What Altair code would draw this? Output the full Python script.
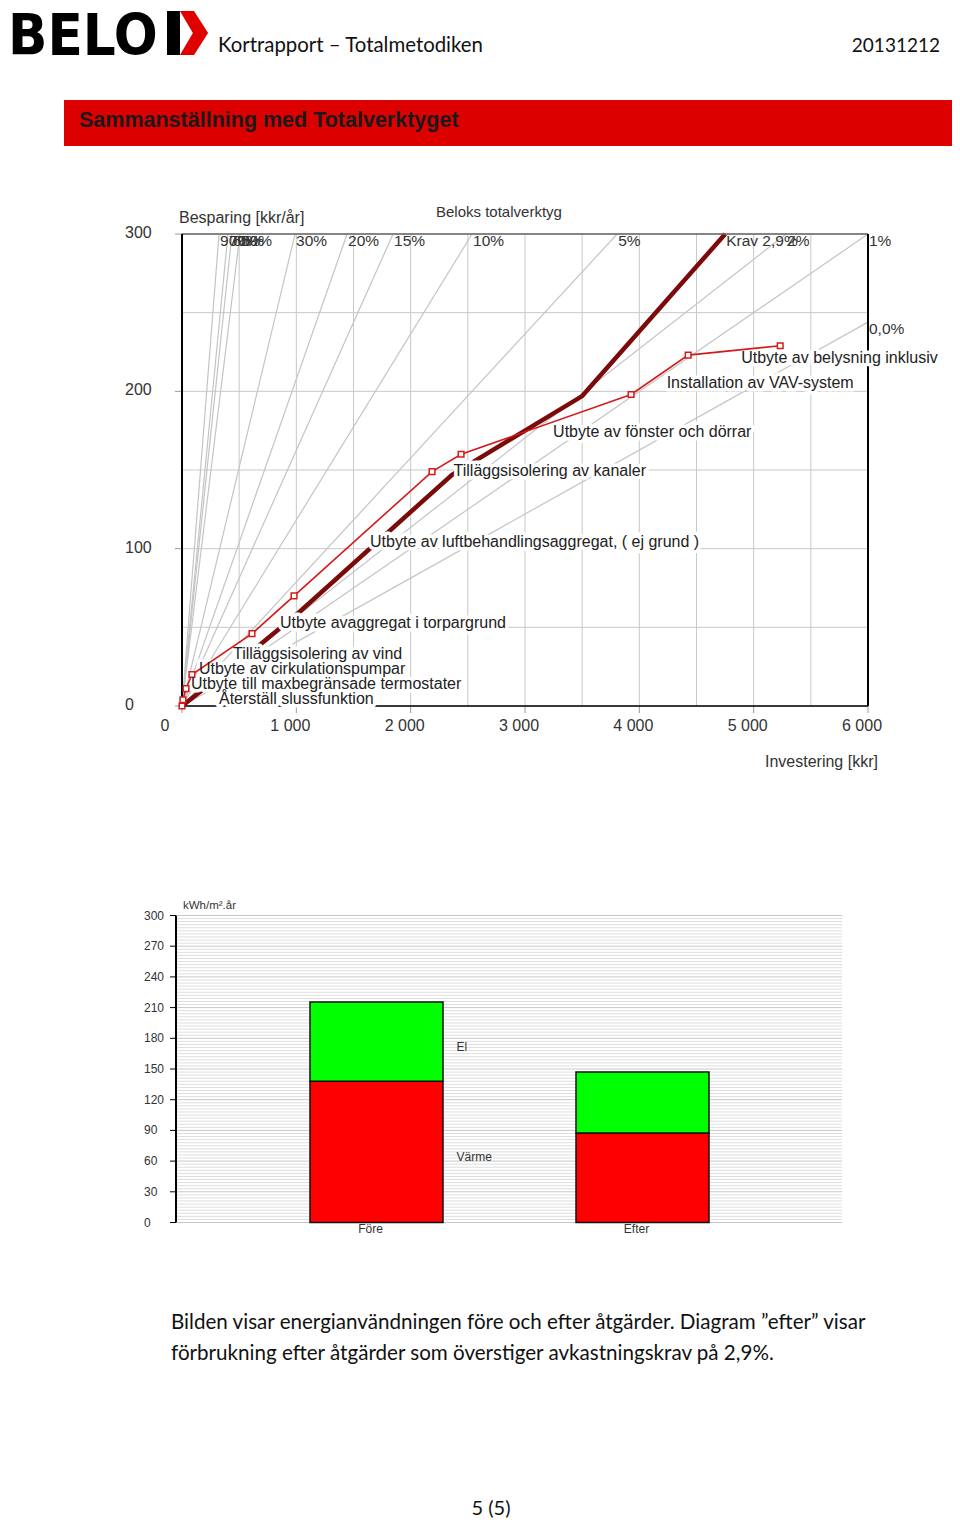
import altair as alt
import pandas as pd

FONT = "Liberation Sans"
BODY_FONT = "Lato"
LOGO_FONT = "DejaVu Sans Condensed, Liberation Sans Narrow, Liberation Sans"

# ---------------- page texts ----------------
logo_text = "BELO"
report_title = "Kortrapport \u2013 Totalmetodiken"
report_date = "20131212"
section_title = "Sammanställning med Totalverktyget"
caption_lines = [
    "Bilden visar energianvändningen före och efter åtgärder. Diagram \u201defter\u201d visar",
    "förbrukning  efter åtgärder som överstiger avkastningskrav på 2,9%.",
]
page_no = "5 (5)"

# ---------------- top chart: Beloks totalverktyg ----------------
top_title = "Beloks totalverktyg"
y_title_top = "Besparing [kkr/år]"
x_title_top = "Investering [kkr]"

measures = [
    "Återställ slussfunktion",
    "Utbyte till maxbegränsade termostater",
    "Utbyte av cirkulationspumpar",
    "Tilläggsisolering av vind",
    "Utbyte avaggregat i torpargrund",
    "Utbyte av luftbehandlingsaggregat, ( ej grund )",
    "Tilläggsisolering av kanaler",
    "Utbyte av fönster och dörrar",
    "Installation av VAV-system",
    "Utbyte av belysning inklusive",
]
cum_invest = [0, 8, 35, 87, 612, 980, 2187, 2441, 3928, 4427, 5232]
cum_saving = [0, 4, 11, 20, 46, 70, 149, 160, 198, 223, 229]

krav_label = "Krav 2,9%"
krav_invest = [0, 682, 1015, 2362, 3500, 4751]
krav_saving = [0, 39, 59, 147, 197, 300]

rate_labels = ["90%", "70%", "60%", "50%", "30%", "20%", "15%", "10%", "5%", "2%", "1%", "0,0%"]
rate_end_invest = [324, 402, 437, 507, 989, 1444, 1846, 2537, 3806, 5284, 6000, 6000]
rate_end_saving = [300, 300, 300, 300, 300, 300, 300, 300, 300, 300, 300, 244]

x_ticks_top = [0, 1000, 2000, 3000, 4000, 5000, 6000]
x_tick_labels_top = ["0", "1 000", "2 000", "3 000", "4 000", "5 000", "6 000"]
y_ticks_top = [0, 100, 200, 300]
x_grid_top = list(range(0, 6001, 500))
y_grid_top = list(range(0, 301, 50))

# ---------------- bottom chart: energy use ----------------
unit_label = "kWh/m².år"
periods = ["Före", "Efter"]
series_names = ["Värme", "El"]
varme = [138, 87.5]
el = [77.5, 59.5]
y_ticks_bot = list(range(0, 301, 30))
y_hatch_bot = list(range(0, 301, 3))

# ---------------- layout (chart pixel space) ----------------
XT_RANGE = [174, 860]
YT_RANGE = [698, 226]
XB_RANGE = [169, 834]
YB_RANGE = [1214.5, 907.5]


def xt():
    return alt.Scale(domain=[0, 6000], range=XT_RANGE, nice=False, zero=False)


def yt():
    return alt.Scale(domain=[0, 300], range=YT_RANGE, nice=False, zero=False)


def xb():
    return alt.Scale(type="band", domain=periods, range=XB_RANGE, paddingInner=0.5, paddingOuter=0.5)


def yb():
    return alt.Scale(domain=[0, 300], range=YB_RANGE, nice=False, zero=False)


one = pd.DataFrame({"a": [0]})
layers = []


def txt(s, x, y, size, align="left", baseline="middle", font=FONT, weight="normal", color="#222"):
    return alt.Chart(one).mark_text(
        text=s, align=align, baseline=baseline, font=font, fontSize=size,
        fontWeight=weight, color=color
    ).encode(x=alt.value(x), y=alt.value(y))


# ---------- header ----------
layers.append(txt(logo_text, 0, 47, 57.5, baseline="alphabetic", font=LOGO_FONT, weight="bold", color="#000"))
layers.append(alt.Chart(one).mark_rect(color="#000").encode(
    x=alt.value(159), x2=alt.value(172), y=alt.value(3), y2=alt.value(47)))
chevron = "M -0.64 -1 L 0.0 -1 L 0.64 0 L 0.0 1 L -0.64 1 L -0.05 0 Z"
layers.append(alt.Chart(one).mark_point(shape=chevron, filled=True, fill="#e00000", strokeWidth=0,
                                        size=1936, opacity=1).encode(x=alt.value(186), y=alt.value(25)))
layers.append(txt(report_title, 210, 44, 20.4, baseline="alphabetic", font=BODY_FONT, color="#111"))
layers.append(txt(report_date, 932, 44, 19, align="right", baseline="alphabetic", font=BODY_FONT, color="#111"))
layers.append(alt.Chart(one).mark_rect(color="#dc0000").encode(
    x=alt.value(56), x2=alt.value(944), y=alt.value(92), y2=alt.value(138)))
layers.append(txt(section_title, 71, 119, 21.5, baseline="alphabetic", weight="bold", color="#1a1a1a"))

# ---------- top chart ----------
gx = pd.DataFrame({"v": x_grid_top})
gy = pd.DataFrame({"v": y_grid_top})
layers.append(alt.Chart(gx).mark_rule(color="#c8c8c8", strokeWidth=1).encode(
    x=alt.X("v:Q", scale=xt(), axis=None),
    y=alt.YDatum(0, scale=yt(), axis=None), y2=alt.Y2Datum(300)))
layers.append(alt.Chart(gy).mark_rule(color="#c8c8c8", strokeWidth=1).encode(
    y=alt.Y("v:Q", scale=yt(), axis=None),
    x=alt.XDatum(0, scale=xt(), axis=None), x2=alt.X2Datum(6000)))

tx = pd.DataFrame({"v": x_ticks_top, "lbl": x_tick_labels_top})
ty = pd.DataFrame({"v": y_ticks_top})
layers.append(alt.Chart(tx).mark_rule(color="#999", strokeWidth=1).encode(
    x=alt.X("v:Q", scale=xt(), axis=None), y=alt.value(698), y2=alt.value(705)))
layers.append(alt.Chart(ty).mark_rule(color="#999", strokeWidth=1).encode(
    y=alt.Y("v:Q", scale=yt(), axis=None), x=alt.value(167), x2=alt.value(174)))

rate_rows = []
for lab, xi, yi in zip(rate_labels, rate_end_invest, rate_end_saving):
    rate_rows.append({"rate": lab, "inv": 0, "sav": 0})
    rate_rows.append({"rate": lab, "inv": xi, "sav": yi})
rate_df = pd.DataFrame(rate_rows)
layers.append(alt.Chart(rate_df).mark_line(color="#c4c4c4", strokeWidth=1.2).encode(
    x=alt.X("inv:Q", scale=xt(), axis=None), y=alt.Y("sav:Q", scale=yt(), axis=None),
    detail="rate:N"))

krav_df = pd.DataFrame({"inv": krav_invest, "sav": krav_saving})
layers.append(alt.Chart(krav_df).mark_line(color="#7d0a0a", strokeWidth=4.5).encode(
    x=alt.X("inv:Q", scale=xt(), axis=None), y=alt.Y("sav:Q", scale=yt(), axis=None)))

# frame
layers.append(alt.Chart(one).mark_rule(color="#666", strokeWidth=1.5).encode(
    x=alt.XDatum(0, scale=xt(), axis=None), x2=alt.X2Datum(6000),
    y=alt.YDatum(300, scale=yt(), axis=None)))
layers.append(alt.Chart(one).mark_rule(color="#000", strokeWidth=1.5).encode(
    x=alt.XDatum(0, scale=xt(), axis=None), x2=alt.X2Datum(6000),
    y=alt.YDatum(0, scale=yt(), axis=None)))
for xv in (0, 6000):
    layers.append(alt.Chart(one).mark_rule(color="#000", strokeWidth=2).encode(
        x=alt.XDatum(xv, scale=xt(), axis=None),
        y=alt.YDatum(0, scale=yt(), axis=None), y2=alt.Y2Datum(300)))

# measure labels: at segment midpoints, nudged to avoid overlap
px_inv = (XT_RANGE[1] - XT_RANGE[0]) / 6000
px_sav = (YT_RANGE[0] - YT_RANGE[1]) / 300
nudges = [(29.5, -12), (-0.5, -18), (3, -20.6), (4, -8)] + [(0, 0)] * 6
lbl_rows = []
for i, name in enumerate(measures):
    mi = (cum_invest[i] + cum_invest[i + 1]) / 2 + nudges[i][0] / px_inv
    ms = (cum_saving[i] + cum_saving[i + 1]) / 2 - nudges[i][1] / px_sav
    lbl_rows.append({"name": name, "inv": mi, "sav": ms, "last": i == len(measures) - 1})
lbl_df = pd.DataFrame(lbl_rows)


def label_layer(df, halo, limit=None):
    kw = dict(align="left", baseline="middle", dx=7, dy=8, font=FONT, fontSize=16)
    if limit is not None:
        kw.update(limit=limit, ellipsis="\u200b")
    if halo:
        kw.update(fill="white", stroke="white", strokeWidth=7, strokeJoin="round")
    else:
        kw.update(fill="#222")
    return alt.Chart(df).mark_text(**kw).encode(
        x=alt.X("inv:Q", scale=xt(), axis=None), y=alt.Y("sav:Q", scale=yt(), axis=None),
        text="name:N")


main_lbl = lbl_df[~lbl_df["last"]]
last_lbl = lbl_df[lbl_df["last"]]
layers.append(label_layer(main_lbl, True))
layers.append(label_layer(last_lbl, True, limit=201))

meas_df = pd.DataFrame({"inv": cum_invest, "sav": cum_saving})
layers.append(alt.Chart(meas_df).mark_line(color="#d41a1a", strokeWidth=1.6).encode(
    x=alt.X("inv:Q", scale=xt(), axis=None), y=alt.Y("sav:Q", scale=yt(), axis=None)))
layers.append(alt.Chart(meas_df).mark_point(shape="square", size=32, filled=True, fill="white",
                                            stroke="#d41a1a", strokeWidth=1.5, opacity=1).encode(
    x=alt.X("inv:Q", scale=xt(), axis=None), y=alt.Y("sav:Q", scale=yt(), axis=None)))

layers.append(label_layer(main_lbl, False))
layers.append(label_layer(last_lbl, False, limit=201))

rate_lbl_df = pd.DataFrame({"rate": rate_labels, "inv": rate_end_invest, "sav": rate_end_saving})
layers.append(alt.Chart(rate_lbl_df).mark_text(align="left", baseline="middle", dx=1, dy=7, font=FONT,
                                                fontSize=15.5, fill="#333").encode(
    x=alt.X("inv:Q", scale=xt(), axis=None), y=alt.Y("sav:Q", scale=yt(), axis=None), text="rate:N"))
krav_end = pd.DataFrame({"inv": [krav_invest[-1]], "sav": [krav_saving[-1]], "t": [krav_label]})
layers.append(alt.Chart(krav_end).mark_text(align="left", baseline="middle", dx=1, dy=7, font=FONT,
                                             fontSize=15.5, fill="#333").encode(
    x=alt.X("inv:Q", scale=xt(), axis=None), y=alt.Y("sav:Q", scale=yt(), axis=None), text="t:N"))

# tick labels
layers.append(alt.Chart(tx[tx["v"] > 0]).mark_text(align="center", baseline="middle", dx=-6, font=FONT,
                                                   fontSize=16, fill="#333").encode(
    x=alt.X("v:Q", scale=xt(), axis=None), y=alt.value(718), text="lbl:N"))
layers.append(alt.Chart(tx[tx["v"] == 0]).mark_text(align="center", baseline="middle", dx=-17, font=FONT,
                                                    fontSize=16, fill="#333").encode(
    x=alt.X("v:Q", scale=xt(), axis=None), y=alt.value(718), text="lbl:N"))
layers.append(alt.Chart(ty).mark_text(align="left", baseline="middle", dy=-1, font=FONT,
                                      fontSize=16, fill="#333").encode(
    y=alt.Y("v:Q", scale=yt(), axis=None), x=alt.value(117), text="v:Q"))

layers.append(txt(y_title_top, 171, 210, 16, color="#333"))
layers.append(txt(top_title, 428, 204, 15, color="#333"))
layers.append(txt(x_title_top, 757, 754, 16, color="#333"))

# ---------- bottom chart ----------
hatch = pd.DataFrame({"v": y_hatch_bot})
hatch["major"] = hatch["v"] % 30 == 0
layers.append(alt.Chart(hatch[~hatch["major"]]).mark_rule(color="#dedede", strokeWidth=1).encode(
    y=alt.Y("v:Q", scale=yb(), axis=None), x=alt.value(XB_RANGE[0]), x2=alt.value(XB_RANGE[1])))
layers.append(alt.Chart(hatch[hatch["major"]]).mark_rule(color="#c8c8c8", strokeWidth=1).encode(
    y=alt.Y("v:Q", scale=yb(), axis=None), x=alt.value(XB_RANGE[0]), x2=alt.value(XB_RANGE[1])))

bar_rows = []
for p, v, e in zip(periods, varme, el):
    bar_rows.append({"period": p, "series": "Värme", "start": 0, "end": v})
    bar_rows.append({"period": p, "series": "El", "start": v, "end": v + e})
bar_df = pd.DataFrame(bar_rows)
bar_df["mid"] = (bar_df["start"] + bar_df["end"]) / 2
layers.append(alt.Chart(bar_df).mark_bar(stroke="#111", strokeWidth=1.5).encode(
    x=alt.X("period:N", scale=xb(), axis=None),
    y=alt.Y("start:Q", scale=yb(), axis=None), y2="end:Q",
    color=alt.Color("series:N", scale=alt.Scale(domain=series_names, range=["#ff0000", "#00ff00"]),
                    legend=None)))

yt_bot = pd.DataFrame({"v": y_ticks_bot})
layers.append(alt.Chart(one).mark_rule(color="#000", strokeWidth=2).encode(
    x=alt.value(168), y=alt.YDatum(0, scale=yb(), axis=None), y2=alt.Y2Datum(300)))
layers.append(alt.Chart(yt_bot).mark_rule(color="#000", strokeWidth=1).encode(
    y=alt.Y("v:Q", scale=yb(), axis=None), x=alt.value(162), x2=alt.value(168)))
layers.append(alt.Chart(yt_bot).mark_text(align="left", baseline="middle", font=FONT, fontSize=12,
                                          fill="#333").encode(
    y=alt.Y("v:Q", scale=yb(), axis=None), x=alt.value(136), text="v:Q"))

cat_df = pd.DataFrame({"period": periods})
layers.append(alt.Chart(cat_df).mark_text(align="center", baseline="middle", dx=-6, font=FONT, fontSize=12,
                                          fill="#333").encode(
    x=alt.X("period:N", scale=xb(), axis=None), y=alt.value(1221), text="period:N"))
ser_df = bar_df[bar_df["period"] == periods[0]]
layers.append(alt.Chart(ser_df).mark_text(align="left", baseline="middle", dx=80, dy=5, font=FONT,
                                          fontSize=12, fill="#333").encode(
    x=alt.X("period:N", scale=xb(), axis=None), y=alt.Y("mid:Q", scale=yb(), axis=None),
    text="series:N"))
layers.append(txt(unit_label, 175, 898, 11.5, color="#333"))

# ---------- caption ----------
layers.append(txt(caption_lines[0], 163, 1315, 20.6, font=BODY_FONT, color="#111"))
layers.append(txt(caption_lines[1], 163, 1346, 20.6, font=BODY_FONT, color="#111"))
layers.append(txt(page_no, 483, 1501, 20, align="center", font=BODY_FONT, color="#111"))

chart = alt.layer(*layers).resolve_scale(
    x="independent", y="independent", color="independent"
).properties(
    width=944, height=1511, padding=0, autosize=alt.AutoSizeParams(type="none")
).configure_view(stroke=None)

chart.save("out.html", embed_options={"renderer": "svg", "actions": False})
